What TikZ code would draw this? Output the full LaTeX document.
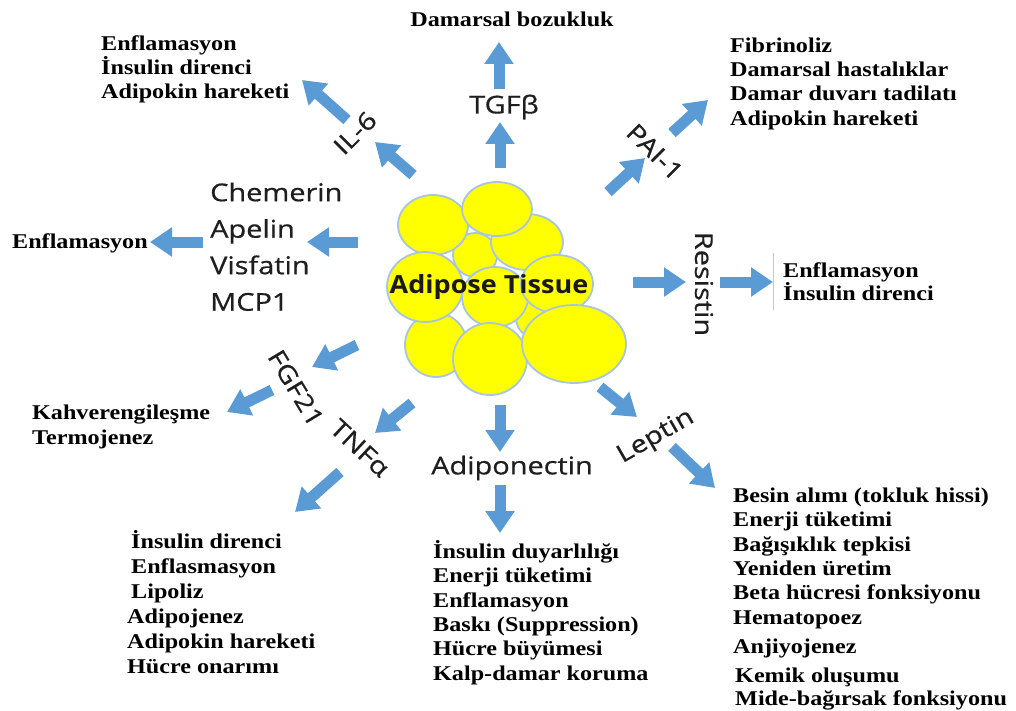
\documentclass[tikz,border=0pt]{standalone}
\usepackage{fontspec}
\setmainfont{Liberation Serif}[FakeStretch=1.15]
\newfontfamily\labfont{Open Sans}[FakeStretch=1.18,FakeBold=0.6]
\newfontfamily\tissuefont{Open Sans}[FakeStretch=1.08]
\usetikzlibrary{arrows.meta}
\definecolor{arrowblue}{HTML}{5B9BD5}
\definecolor{cellrim}{HTML}{A9C4E0}
\definecolor{cellfill}{HTML}{FFFF00}
\definecolor{labelgray}{HTML}{1E1E1E}
\newcommand\fxstrut{\rule{0pt}{19pt}}
\newcommand\lbstrut{\rule{0pt}{21pt}}
\begin{document}
\begin{tikzpicture}[x=1pt,y=-1pt,
  blk/.style={draw=arrowblue, line width=11pt, -{Triangle[length=22pt,width=28pt]}},
  effect/.style={font=\bfseries\fontsize{21}{24.4}\selectfont, align=left, inner sep=0pt, anchor=north west},
  hormone/.style={font=\labfont\fontsize{24.5}{36.5}\selectfont, inner sep=0pt, text=labelgray},
  cell/.style={fill=cellfill, draw=cellrim, line width=1.8pt}]
\fill[white] (0,0) rectangle (1016,711);
\useasboundingbox (0,0) rectangle (1016,711);

% cluster of fat cells
\draw[cell] (475,255) ellipse [x radius=22pt, y radius=22pt];
\draw[cell] (540,318) ellipse [x radius=24pt, y radius=22pt];
\draw[cell] (495,297) ellipse [x radius=33pt, y radius=30pt];
\draw[cell] (436,345) ellipse [x radius=31pt, y radius=32pt];
\draw[cell] (527,242) ellipse [x radius=36pt, y radius=28pt];
\draw[cell] (433,225) ellipse [x radius=35pt, y radius=30pt];
\draw[cell] (497,209) ellipse [x radius=35pt, y radius=27pt];
\draw[cell] (425,287) ellipse [x radius=38pt, y radius=35pt];
\draw[cell] (557,284) ellipse [x radius=36pt, y radius=29pt];
\draw[cell] (490,359) ellipse [x radius=37pt, y radius=36pt];
\draw[cell] (574,344) ellipse [x radius=52pt, y radius=39pt];
\node[inner sep=0pt, font=\tissuefont\bfseries\fontsize{25}{30}\selectfont, text=black!90] (adipose) at (489,287) {Adipose Tissue};

% hormone labels
\node[hormone] (tgfb) at (504,107) {TGFβ};
\node[hormone, rotate=45] (il6) at (355,133) {IL-6};
\node[hormone, rotate=-45] (pai) at (655,152) {PAI-1};
\node[hormone, rotate=-90] (resistin) at (704,284) {Resistin};
\node[hormone, align=left, anchor=north west] (chem) at (210,180) {\lbstrut Chemerin\\Apelin\\Visfatin\\MCP1};
\node[hormone, rotate=-59] (fgf) at (296,388) {FGF21};
\node[hormone, rotate=-43] (tnf) at (360,448) {TNFα};
\node[hormone] (adipo) at (512,468) {Adiponectin};
\node[hormone, rotate=30] (leptin) at (656,437) {Leptin};

% effect lists
\node[effect, anchor=center] (damar) at (512,19) {Damarsal bozukluk};
\node[effect] (il6fx) at (101,31) {\fxstrut Enflamasyon\\İnsulin direnci\\Adipokin hareketi};
\node[effect] (paifx) at (730,33) {\fxstrut Fibrinoliz\\Damarsal hastalıklar\\Damar duvarı tadilatı\\Adipokin hareketi};
\node[effect, font=\bfseries\fontsize{21}{23}\selectfont] (resfx) at (783,258) {\fxstrut Enflamasyon\\İnsulin direnci};
\node[effect, anchor=west] (chemfx) at (12,243) {Enflamasyon};
\node[effect, font=\bfseries\fontsize{21}{25}\selectfont] (fgffx) at (32,400) {\fxstrut Kahverengileşme\\Termojenez};
\node[effect, font=\bfseries\fontsize{21}{25}\selectfont] (tnffx) at (127,529) {\fxstrut\hspace*{4pt}İnsulin direnci\\\hspace*{4pt}Enflasmasyon\\\hspace*{4pt}Lipoliz\\Adipojenez\\Adipokin hareketi\\Hücre onarımı};
\node[effect] (adipofx) at (433,539) {\fxstrut İnsulin duyarlılığı\\Enerji tüketimi\\Enflamasyon\\Baskı (Suppression)\\Hücre büyümesi\\Kalp-damar koruma};
\node[effect] (leptinfx) at (733,483) {\fxstrut Besin alımı (tokluk hissi)\\Enerji tüketimi\\Bağışıklık tepkisi\\Yeniden üretim\\Beta hücresi fonksiyonu\\Hematopoez\\[5pt]Anjiyojenez\\[4pt]\hspace*{2pt}Kemik oluşumu\\[-1pt]\hspace*{2pt}Mide-bağırsak fonksiyonu};
\draw[black!22, line width=1pt] (773,253) -- (773,310);

% arrow end points
\coordinate (t1) at (500,168); \coordinate (t2) at (500,122);
\coordinate (t3) at (499,89);  \coordinate (t4) at (499,42);
\coordinate (i1) at (413,175); \coordinate (i2) at (375,142);
\coordinate (i3) at (347,120); \coordinate (i4) at (302,80);
\coordinate (p1) at (608,192); \coordinate (p2) at (645,158);
\coordinate (p3) at (672,133); \coordinate (p4) at (708,100);
\coordinate (r1) at (633,282); \coordinate (r2) at (686,282);
\coordinate (r3) at (720,282); \coordinate (r4) at (773,282);
\coordinate (c1) at (358,242); \coordinate (c2) at (307,242);
\coordinate (c3) at (203,242); \coordinate (c4) at (150,242);
\coordinate (f1) at (357,345); \coordinate (f2) at (312,367);
\coordinate (f3) at (272,390); \coordinate (f4) at (227,412);
\coordinate (n1) at (412,403); \coordinate (n2) at (375,433);
\coordinate (n3) at (340,472); \coordinate (n4) at (295,512);
\coordinate (a1) at (500,405); \coordinate (a2) at (500,452);
\coordinate (a3) at (500,485); \coordinate (a4) at (500,533);
\coordinate (l1) at (600,387); \coordinate (l2) at (637,417);
\coordinate (l3) at (672,447); \coordinate (l4) at (715,488);

\foreach \s/\e in {t1/t2,t3/t4,i1/i2,i3/i4,p1/p2,p3/p4,r1/r2,r3/r4,c1/c2,c3/c4,f1/f2,f3/f4,n1/n2,n3/n4,a1/a2,a3/a4,l1/l2,l3/l4}
  \draw[blk] (\s) -- (\e);
\end{tikzpicture}
\end{document}
